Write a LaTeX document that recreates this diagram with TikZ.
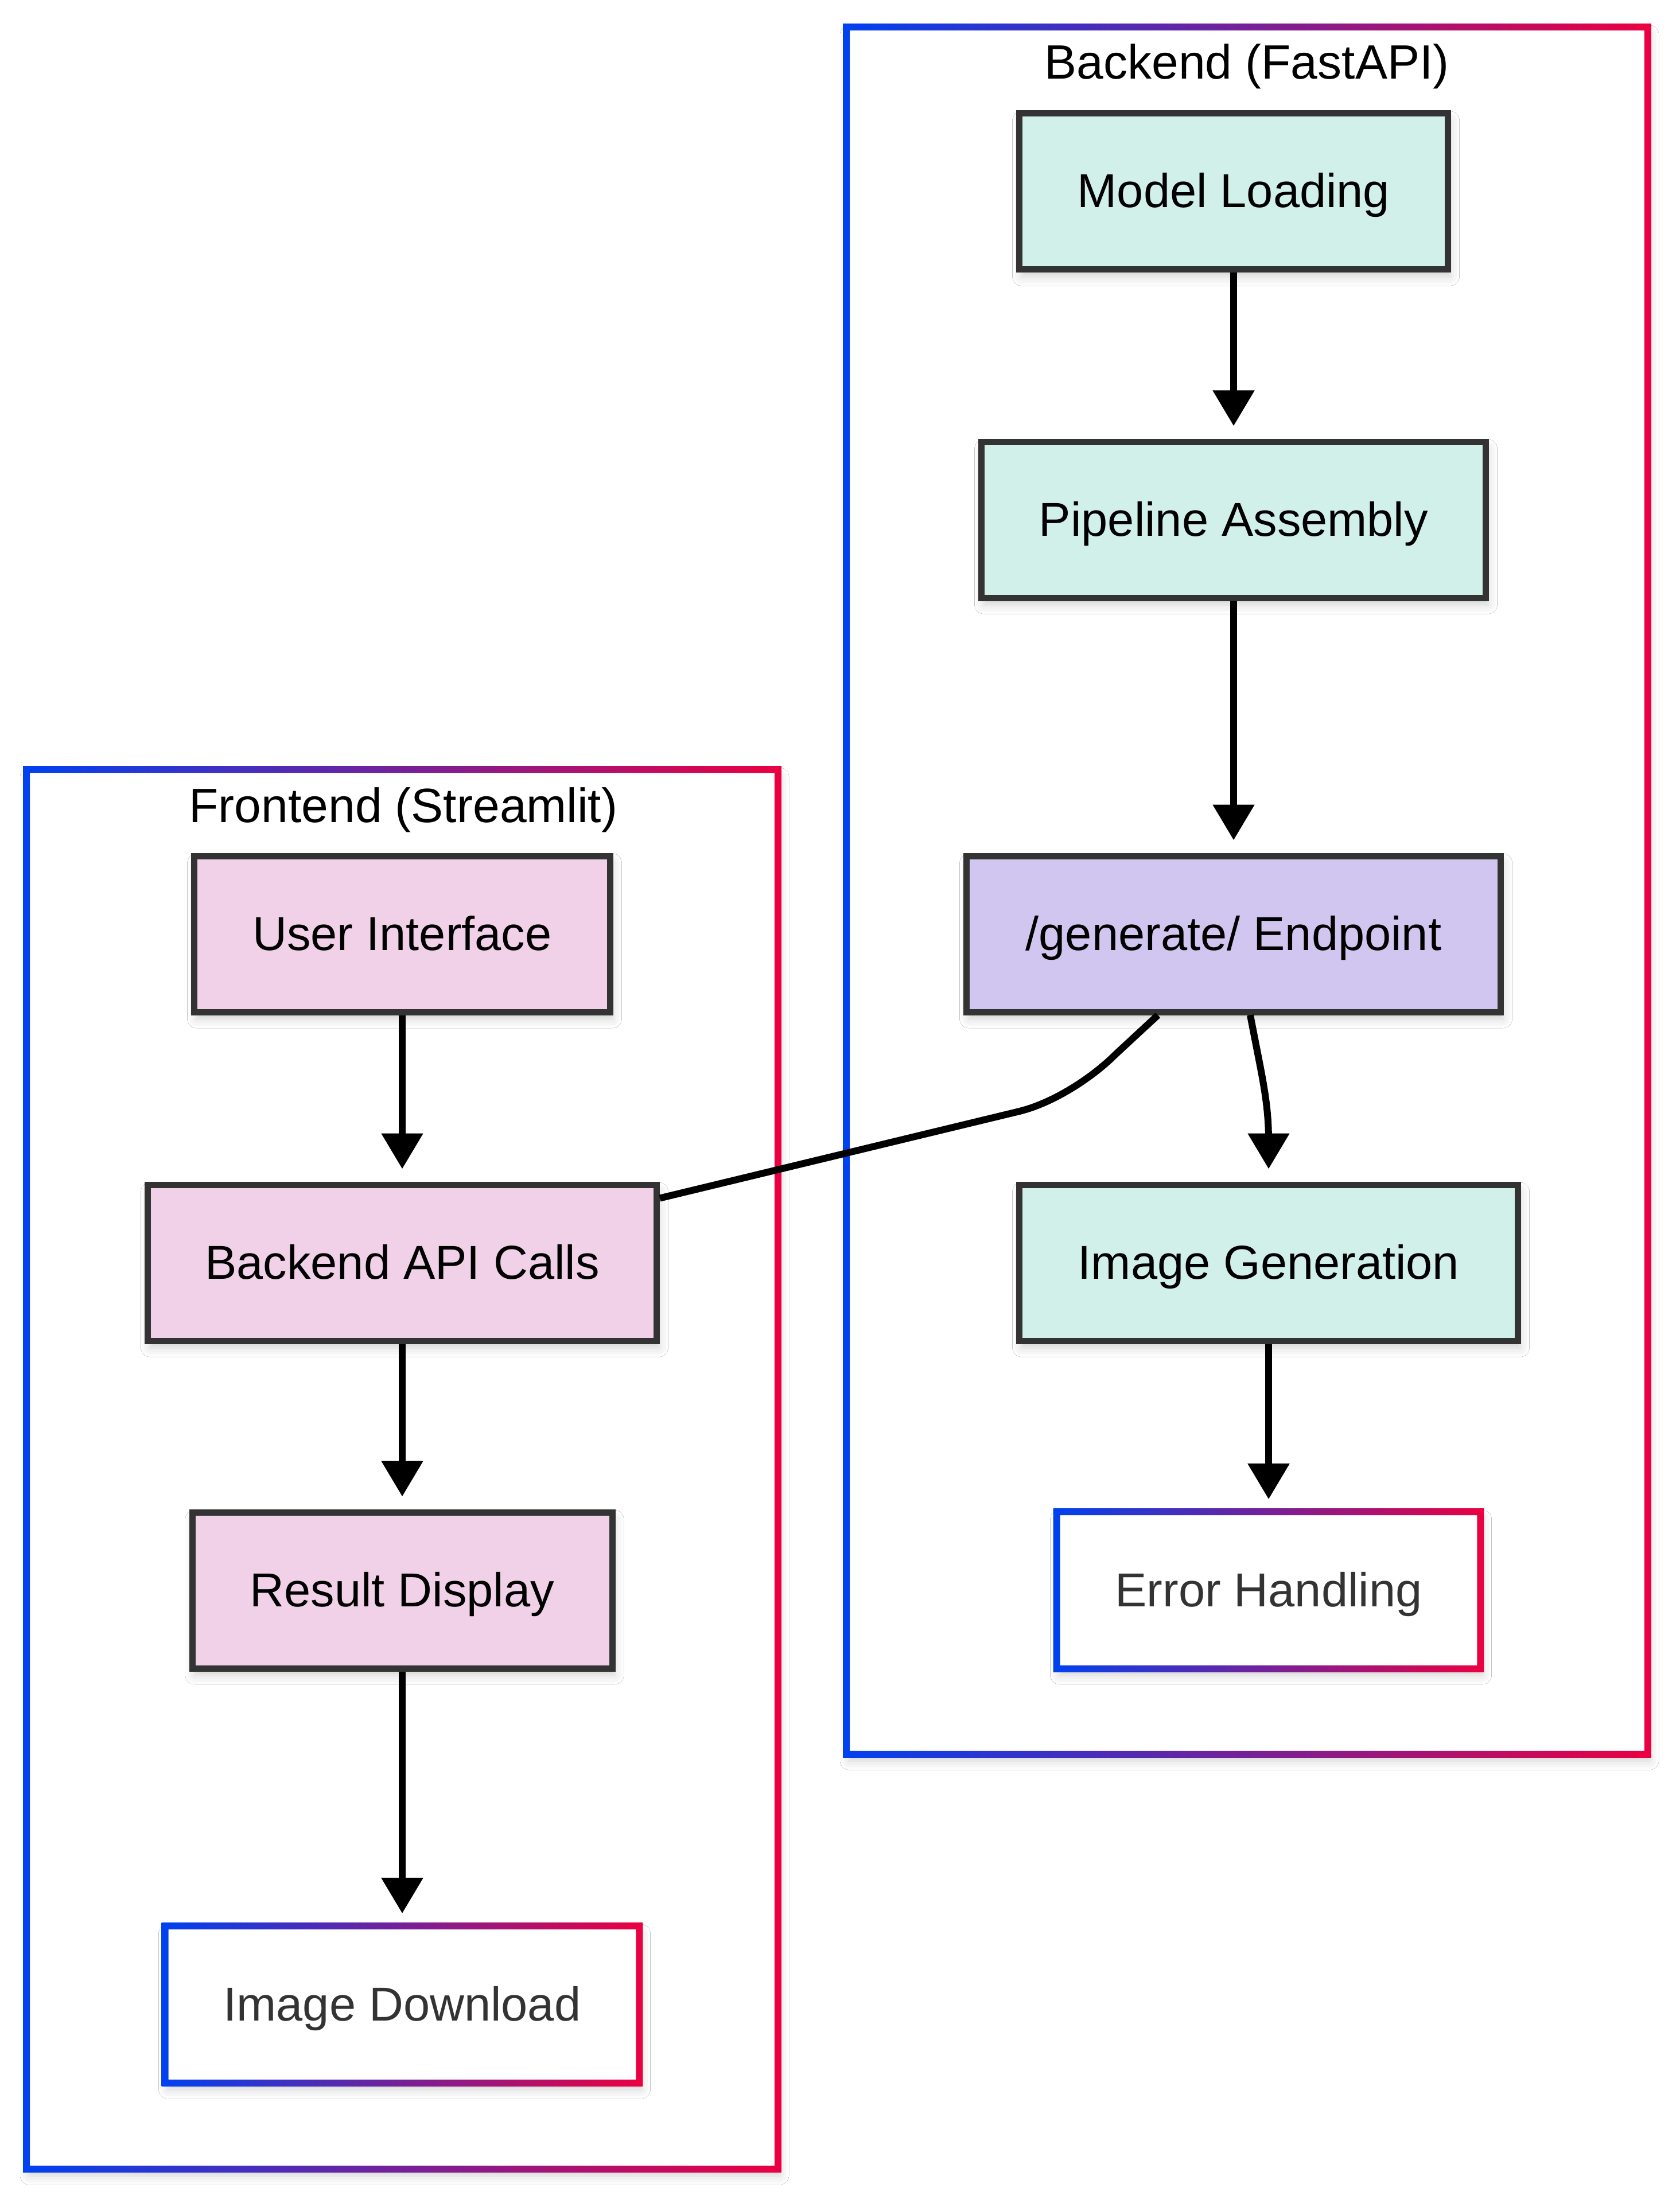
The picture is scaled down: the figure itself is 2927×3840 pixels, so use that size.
\documentclass[tikz,border=0pt]{standalone}
\usepackage{fontspec}
\setmainfont{Liberation Sans}
\usetikzlibrary{arrows.meta,shadows.blur,calc}
\definecolor{gblue}{HTML}{0041F0}
\definecolor{gred}{HTML}{EB0041}
\definecolor{mint}{HTML}{D2F0EA}
\definecolor{pinkf}{HTML}{F0D1E8}
\definecolor{lav}{HTML}{D1C6F0}
\definecolor{bord}{HTML}{333333}
\newcommand\gradframe[2]{%
  \shade[left color=gblue,right color=gred,even odd rule]
    ([shift={(-#2,-#2)}]#1.north west) rectangle ([shift={(#2,#2)}]#1.south east)
    ([shift={(#2,#2)}]#1.north west) rectangle ([shift={(-#2,-#2)}]#1.south east);}
\tikzset{
  softshadow/.style={blur shadow={shadow xshift=1pt, shadow yshift=-3pt, shadow blur radius=4pt, shadow opacity=18}},
  lbl/.style={font=\fontsize{20.75pt}{24pt}\selectfont, text height=15pt, text depth=1pt},
  box/.style={lbl, draw=bord, line width=2.75pt, minimum height=272*0.25pt, inner sep=0pt, softshadow},
  mintbox/.style={box, fill=mint},
  pinkbox/.style={box, fill=pinkf},
  lavbox/.style={box, fill=lav},
  gnode/.style={lbl, fill=white, text=bord, minimum height=272*0.25pt, inner sep=0pt, softshadow},
  cluster/.style={fill=white, inner sep=0pt, softshadow},
  ctitle/.style={font=\fontsize{21pt}{24pt}\selectfont, inner sep=0pt},
  arr/.style={line width=3pt, -{Triangle[length=15.5pt,width=17.5pt]}, shorten >=5.5pt},
  link/.style={line width=3pt}
}
\begin{document}
\begin{tikzpicture}[x=0.25pt,y=-0.25pt]
\fill[white] (0,0) rectangle (2927,3840);
\useasboundingbox (0,0) rectangle (2927,3840);

% clusters
\node[cluster, minimum width=1395*0.25pt, minimum height=3009*0.25pt] (be) at (2173.5,1552.5) {};
\node[cluster, minimum width=1308*0.25pt, minimum height=2438*0.25pt] (fe) at (701,2561) {};
\gradframe{be}{6}
\gradframe{fe}{6}
\node[ctitle, anchor=base] (bet) at (2173,138) {Backend (FastAPI)};
\node[ctitle, anchor=base] (fet) at (703,1433) {Frontend (Streamlit)};

% backend nodes
\node[mintbox, minimum width=747*0.25pt] (ml) at (2150,334) {Model Loading};
\node[mintbox, minimum width=879*0.25pt] (pa) at (2150,906) {Pipeline Assembly};
\node[lavbox, minimum width=931*0.25pt] (ep) at (2150,1628) {/generate/ Endpoint};
\node[mintbox, minimum width=869*0.25pt] (ig) at (2211,2201) {Image Generation};
\node[gnode, minimum width=737*0.25pt] (eh) at (2211,2772) {Error Handling};
\gradframe{eh}{6}

% frontend nodes
\node[pinkbox, minimum width=725*0.25pt] (ui) at (701,1628) {User Interface};
\node[pinkbox, minimum width=887*0.25pt] (bac) at (701,2201) {Backend API Calls};
\node[pinkbox, minimum width=732*0.25pt] (rd) at (701,2772) {Result Display};
\node[gnode, minimum width=825*0.25pt] (idl) at (701,3494) {Image Download};
\gradframe{idl}{6}

% connectors
\draw[arr] (ml) -- (pa);
\draw[arr] (pa) -- (ep);
\draw[arr] ($(ep.south)+(29,0)$) .. controls (2200,1880) and (2211,1920) .. (2211,1990) -- (ig.north);
\draw[arr] (ig) -- (eh);
\draw[arr] (ui) -- (bac);
\draw[arr] (bac) -- (rd);
\draw[arr] (rd) -- (idl);
\draw[link, line join=round] ($(ep.south)+(-132,0)$) -- (1944,1838) .. controls (1904,1878) and (1837,1922) .. (1777,1937) -- ($(bac.north east)+(0,29)$);
\end{tikzpicture}
\end{document}
